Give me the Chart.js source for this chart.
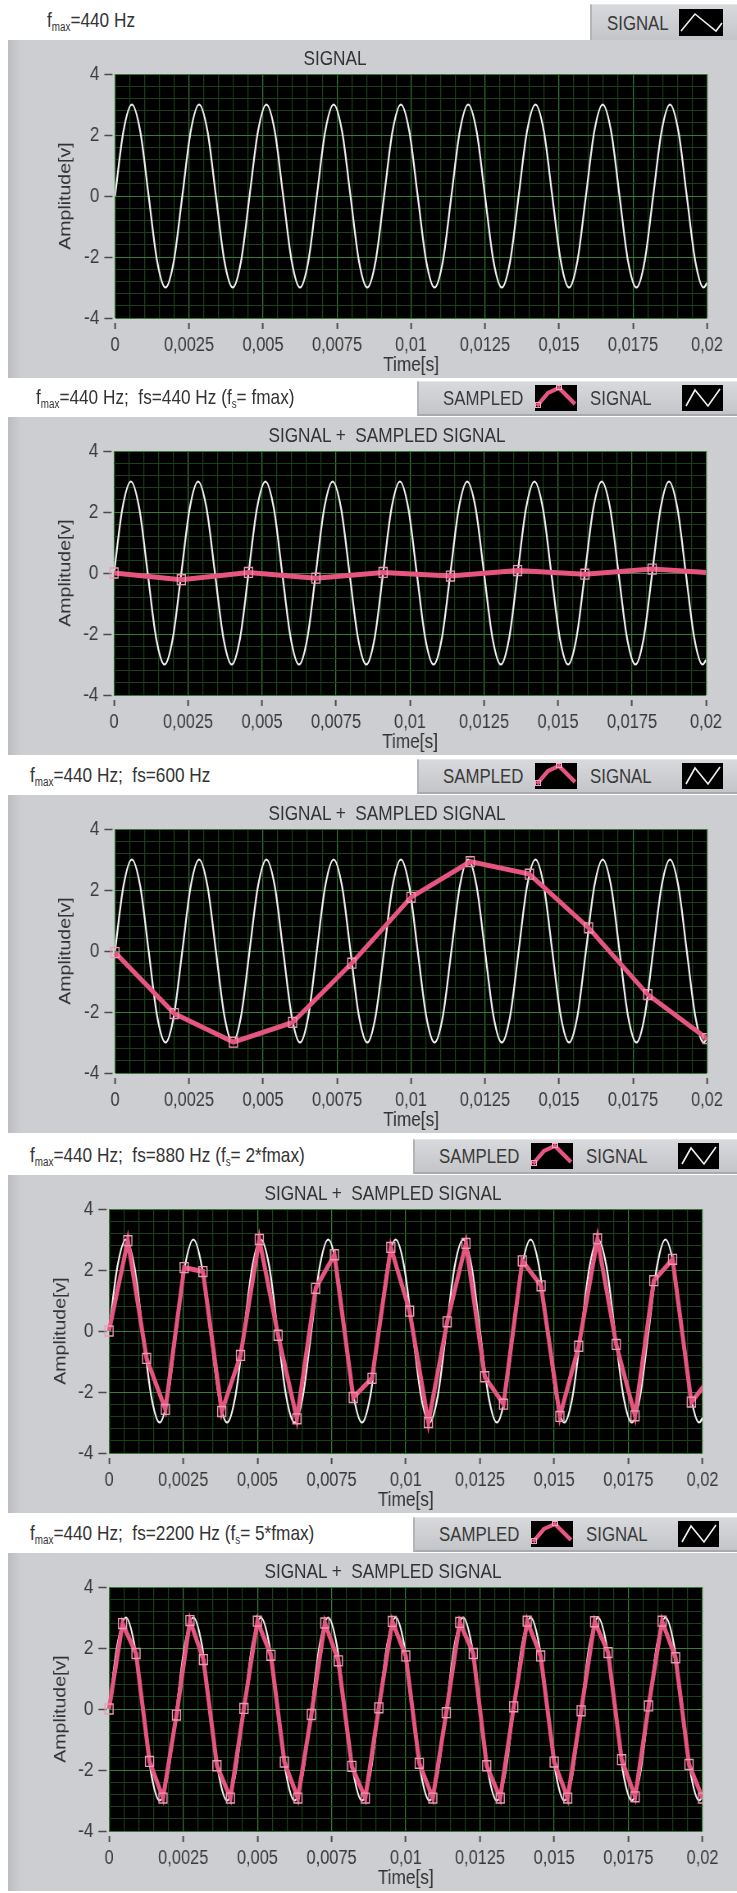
<!DOCTYPE html>
<html>
<head>
<meta charset="utf-8">
<script src="https://cdn.jsdelivr.net/npm/chart.js@4.4.1/dist/chart.umd.min.js"></script>
<style>
html,body{margin:0;padding:0;background:#fff;}
body{width:737px;height:1893px;position:relative;overflow:hidden;font-family:"Liberation Sans",Arial,sans-serif;}
.hdr{position:absolute;left:0;height:40px;line-height:40px;font-size:21px;color:#333;white-space:pre;transform:scaleX(0.82);transform-origin:0 50%;}
.hdr sub{font-size:12px;vertical-align:-4px;line-height:0;}
.leg{position:absolute;right:0;background:linear-gradient(#d8d9dc,#c4c5c8);border-top:1px solid #e6e6e8;border-left:2px solid #b4b5b8;border-bottom:2px solid #a9aaad;box-sizing:border-box;font-size:20.5px;color:#3a3a3a;}
.leg span{position:absolute;top:50%;transform:translateY(-50%) scaleX(0.82);transform-origin:0 50%;white-space:nowrap;}
.leg .ic{position:absolute;top:0;height:100%;display:flex;align-items:center;}
.panel{position:absolute;left:8px;width:729px;height:338px;overflow:hidden;background:linear-gradient(to right,#bcbdc0 0,#c9cacd 10px,#cdced1 14px);}
.ttl{position:absolute;top:6px;font-size:21px;color:#333;transform:translateX(-50%) scaleX(0.82);white-space:pre;}
.cw{position:absolute;left:0;top:0;width:889px;height:338px;transform:scaleX(0.82);transform-origin:0 0;}
canvas{position:absolute;left:0;top:0;}
</style>
</head>
<body>
<script>
// ---------- DATA ----------
const xTickValues = [0, 0.0025, 0.005, 0.0075, 0.01, 0.0125, 0.015, 0.0175, 0.02];
const xTickLabels = ['0', '0,0025', '0,005', '0,0075', '0,01', '0,0125', '0,015', '0,0175', '0,02'];
const yTickValues = [-4, -2, 0, 2, 4];
const yTickLabels = ['-4', '-2', '0', '2', '4'];

// continuous signal (fmax = 440 Hz)
const signalTime = [0, 0.000284, 0.000568, 0.000852, 0.001136, 0.00142, 0.001705, 0.001989,
  0.002273, 0.002557, 0.002841, 0.003125, 0.003409, 0.003693, 0.003977, 0.004261,
  0.004545, 0.00483, 0.005114, 0.005398, 0.005682, 0.005966, 0.00625, 0.006534,
  0.006818, 0.007102, 0.007386, 0.00767, 0.007955, 0.008239, 0.008523, 0.008807,
  0.009091, 0.009375, 0.009659, 0.009943, 0.010227, 0.010511, 0.010795, 0.01108,
  0.011364, 0.011648, 0.011932, 0.012216, 0.0125, 0.012784, 0.013068, 0.013352,
  0.013636, 0.01392, 0.014205, 0.014489, 0.014773, 0.015057, 0.015341, 0.015625,
  0.015909, 0.016193, 0.016477, 0.016761, 0.017045, 0.01733, 0.017614, 0.017898,
  0.018182, 0.018466, 0.01875, 0.019034, 0.019318, 0.019602, 0.019886, 0.02];
const signalAmp = [0, 2.12, 3, 2.12, 0, -2.12, -3, -2.12,
  0, 2.12, 3, 2.12, 0, -2.12, -3, -2.12,
  0, 2.12, 3, 2.12, 0, -2.12, -3, -2.12,
  0, 2.12, 3, 2.12, 0, -2.12, -3, -2.12,
  0, 2.12, 3, 2.12, 0, -2.12, -3, -2.12,
  0, 2.12, 3, 2.12, 0, -2.12, -3, -2.12,
  0, 2.12, 3, 2.12, 0, -2.12, -3, -2.12,
  0, 2.12, 3, 2.12, 0, -2.12, -3, -2.12,
  0, 2.12, 3, 2.12, 0, -2.12, -3, -2.85];

// sampled, fs = 440 Hz
const sampledTime440 = [0, 0.002273, 0.004545, 0.006818, 0.009091, 0.011364, 0.013636, 0.015909, 0.018182, 0.020455];
const sampledAmp440 = [0, -0.22, 0.02, -0.17, 0.02, -0.1, 0.08, -0.04, 0.13, -0.01];

// sampled, fs = 600 Hz (as drawn)
const sampledTime600 = [0, 0.002, 0.004, 0.006, 0.008, 0.01, 0.012, 0.014, 0.016, 0.018, 0.02];
const sampledAmp600 = [-0.05, -2.05, -2.99, -2.34, -0.4, 1.76, 2.93, 2.52, 0.76, -1.43, -2.87];

// sampled, fs = 880 Hz (as drawn)
const sampledTime880 = [0, 0.000633, 0.001266, 0.001899, 0.002532, 0.003165, 0.003798, 0.004431,
  0.005064, 0.005697, 0.00633, 0.006963, 0.007596, 0.008229, 0.008862, 0.009495,
  0.010128, 0.010761, 0.011394, 0.012027, 0.01266, 0.013293, 0.013926, 0.014559,
  0.015192, 0.015825, 0.016458, 0.017091, 0.017724, 0.018357, 0.01899, 0.019623, 0.020256];
const sampledAmp880 = [0, 2.96, -0.9, -2.57, 2.08, 1.95, -2.64, -0.8,
  3.0, -0.14, -2.88, 1.4, 2.5, -2.18, -1.55, 2.74,
  0.65, -3.0, 0.3, 2.87, -1.5, -2.4, 2.3, 1.48,
  -2.8, -0.5, 3.02, -0.44, -2.78, 1.65, 2.35, -2.33, -1.55];

// sampled, fs = 2200 Hz
const sampledTime2200 = [0, 0.000455, 0.000909, 0.001364, 0.001818, 0.002273, 0.002727, 0.003182,
  0.003636, 0.004091, 0.004545, 0.005, 0.005455, 0.005909, 0.006364, 0.006818,
  0.007273, 0.007727, 0.008182, 0.008636, 0.009091, 0.009545, 0.01, 0.010455,
  0.010909, 0.011364, 0.011818, 0.012273, 0.012727, 0.013182, 0.013636, 0.014091,
  0.014545, 0.015, 0.015455, 0.015909, 0.016364, 0.016818, 0.017273, 0.017727,
  0.018182, 0.018636, 0.019091, 0.019545, 0.02];
const sampledAmp2200 = [0, 2.8, 1.82, -1.72, -2.92, -0.2, 2.9, 1.62,
  -1.86, -2.92, 0.02, 2.88, 1.76, -1.74, -2.92, -0.18,
  2.82, 1.58, -1.88, -2.92, 0.04, 2.87, 1.74, -1.78,
  -2.92, -0.12, 2.84, 1.82, -1.86, -2.92, 0.07, 2.88,
  1.74, -1.74, -2.92, -0.06, 2.86, 1.85, -1.66, -2.88,
  0.1, 2.88, 1.68, -1.82, -2.92];

const headerTexts = [
  'f<sub>max</sub>=440 Hz',
  'f<sub>max</sub>=440 Hz;  fs=440 Hz (f<sub>s</sub>= fmax)',
  'f<sub>max</sub>=440 Hz;  fs=600 Hz',
  'f<sub>max</sub>=440 Hz;  fs=880 Hz (f<sub>s</sub>= 2*fmax)',
  'f<sub>max</sub>=440 Hz;  fs=2200 Hz (f<sub>s</sub>= 5*fmax)'
];
const chartTitles = ['SIGNAL', 'SIGNAL +  SAMPLED SIGNAL', 'SIGNAL +  SAMPLED SIGNAL', 'SIGNAL +  SAMPLED SIGNAL', 'SIGNAL +  SAMPLED SIGNAL'];
const sampledTimes = [null, sampledTime440, sampledTime600, sampledTime880, sampledTime2200];
const sampledAmps = [null, sampledAmp440, sampledAmp600, sampledAmp880, sampledAmp2200];

// ---------- LAYOUT ----------
const FONT = '"Liberation Sans", Arial, sans-serif';
const PINK = '#e6557f';
const MAJOR = '#367b36';
const MINOR = '#1b3e1b';
const SQ = 0.82;              // horizontal squeeze of the original screenshot
const CW = 889;               // internal canvas width (729 / 0.82)
const layoutCfg = [
  {top: 0,    hdrX: 47, legLeft: 590, plotLeft: 130.5, padRight: 36.6, yTitlePad: 59, titleX: 327},
  {top: 377,  hdrX: 36, legLeft: 417, plotLeft: 129.3, padRight: 37.8, yTitlePad: 59, titleX: 379},
  {top: 755,  hdrX: 30, legLeft: 417, plotLeft: 130.5, padRight: 36.6, yTitlePad: 59, titleX: 379},
  {top: 1135, hdrX: 30, legLeft: 413, plotLeft: 123.2, padRight: 42,   yTitlePad: 53, titleX: 375},
  {top: 1513, hdrX: 30, legLeft: 413, plotLeft: 123.2, padRight: 42,   yTitlePad: 53, titleX: 375}
];

function near(a, b) { return Math.abs(a - b) < 1e-7; }
function majorIndex(list, v) { for (let i = 0; i < list.length; i++) if (near(list[i], v)) return i; return -1; }

const sigIcon1 = '<svg width="44" height="27"><rect width="44" height="27" fill="#000"/><polyline points="2,22 16,5 37,22 43,14" fill="none" stroke="#eee" stroke-width="1.6"/></svg>';
const sigIconN = '<svg width="41" height="26"><rect width="41" height="26" fill="#000"/><polyline points="4,21 13,5 26,21 38,4" fill="none" stroke="#eee" stroke-width="1.6"/></svg>';
const sampIcon = '<svg width="42" height="26"><rect width="42" height="26" fill="#000"/><polyline points="2,21 13,8 24,3 40,19" fill="none" stroke="' + PINK + '" stroke-width="4"/><rect x="0.5" y="17.5" width="5" height="5" fill="none" stroke="#f0a8c0"/><rect x="21.5" y="0.5" width="5" height="4" fill="none" stroke="#f0a8c0"/></svg>';

const plotBg = {
  id: 'plotBg',
  beforeDraw(chart) {
    const {ctx, chartArea: a} = chart;
    ctx.save();
    ctx.fillStyle = '#000';
    ctx.fillRect(a.left, a.top, a.right - a.left, a.bottom - a.top);
    ctx.restore();
  }
};

layoutCfg.forEach((L, i) => {
  const h = document.createElement('div');
  h.className = 'hdr';
  h.style.top = L.top + 'px';
  h.style.left = L.hdrX + 'px';
  h.innerHTML = headerTexts[i];
  document.body.appendChild(h);

  const lg = document.createElement('div');
  lg.className = 'leg';
  lg.style.left = L.legLeft + 'px';
  lg.style.top = (L.top + 4) + 'px';
  if (i === 0) {
    lg.style.height = '38px';
    lg.innerHTML = '<span style="left:15px">SIGNAL</span><div class="ic" style="left:87px">' + sigIcon1 + '</div>';
  } else {
    lg.style.height = '35px';
    lg.innerHTML = '<span style="left:24px">SAMPLED</span><div class="ic" style="left:116px">' + sampIcon +
      '</div><span style="left:171px">SIGNAL</span><div class="ic" style="left:263px">' + sigIconN + '</div>';
  }
  document.body.appendChild(lg);

  const p = document.createElement('div');
  p.className = 'panel';
  p.style.top = (L.top + 40) + 'px';
  const wrap = document.createElement('div');
  wrap.className = 'cw';
  const c = document.createElement('canvas');
  c.width = CW; c.height = 338;
  c.style.width = CW + 'px'; c.style.height = '338px';
  wrap.appendChild(c);
  const t = document.createElement('div');
  t.className = 'ttl';
  t.style.left = L.titleX + 'px';
  t.textContent = chartTitles[i];
  p.appendChild(wrap);
  p.appendChild(t);
  document.body.appendChild(p);

  const datasets = [];
  if (sampledTimes[i]) {
    datasets.push({
      label: 'SAMPLED',
      data: sampledTimes[i].map((x, k) => ({x: x, y: sampledAmps[i][k]})),
      borderColor: PINK, borderWidth: 5, tension: 0,
      pointStyle: 'rect', pointRadius: 7, pointHoverRadius: 7,
      pointBorderColor: '#ee9ab6', pointBackgroundColor: 'rgba(0,0,0,0)', pointBorderWidth: 1.4,
      order: 0, clip: {left: 10, right: 0, top: 10, bottom: 10}
    });
  }
  datasets.push({
    label: 'SIGNAL',
    data: signalTime.map((x, k) => ({x: x, y: signalAmp[k]})),
    borderColor: '#f2f2f2', borderWidth: 2.2, pointRadius: 0,
    cubicInterpolationMode: 'monotone', order: 1
  });

  new Chart(c, {
    type: 'line',
    data: {datasets},
    plugins: [plotBg],
    options: {
      responsive: false, animation: false, devicePixelRatio: 1,
      layout: {padding: {left: 0, right: L.padRight, top: 34, bottom: 0}},
      plugins: {legend: {display: false}, tooltip: {enabled: false}, title: {display: false}},
      scales: {
        x: {
          type: 'linear', min: 0, max: 0.02,
          afterFit(s) { s.height = 60; s.paddingLeft = 0; s.paddingRight = 0; },
          border: {display: false},
          grid: {
            color: ctx => majorIndex(xTickValues, ctx.tick.value) >= 0 ? MAJOR : MINOR,
            tickColor: ctx => majorIndex(xTickValues, ctx.tick.value) >= 0 ? '#4a4a4a' : 'rgba(0,0,0,0)',
            tickLength: 12, tickWidth: 2, tickBorderDash: [0, 5, 6, 100], lineWidth: 1.25
          },
          ticks: {
            stepSize: 0.0005, maxTicksLimit: 100, autoSkip: false, maxRotation: 0, minRotation: 0, padding: 3,
            color: '#3a3a3a', font: {family: FONT, size: 20, lineHeight: 1.2},
            callback: v => { const k = majorIndex(xTickValues, v); return k >= 0 ? xTickLabels[k] : ''; }
          },
          title: {display: true, text: 'Time[s]', color: '#333', font: {family: FONT, size: 21, lineHeight: 1.2}, padding: {top: 0, bottom: 0}}
        },
        y: {
          type: 'linear', min: -4, max: 4,
          afterFit(s) { s.width = L.plotLeft; s.paddingTop = 0; s.paddingBottom = 0; },
          border: {display: false},
          grid: {
            color: ctx => majorIndex(yTickValues, ctx.tick.value) >= 0 ? MAJOR : MINOR,
            tickColor: ctx => majorIndex(yTickValues, ctx.tick.value) >= 0 ? '#4a4a4a' : 'rgba(0,0,0,0)',
            tickLength: 13, tickWidth: 1.5, tickBorderDash: [10, 100], lineWidth: 1
          },
          ticks: {
            stepSize: 0.4, maxTicksLimit: 100, autoSkip: false, padding: 6,
            color: '#3a3a3a', font: {family: FONT, size: 21, lineHeight: 1.2},
            callback: v => { const k = majorIndex(yTickValues, v); return k >= 0 ? yTickLabels[k] : ''; }
          },
          title: {display: true, text: 'Amplitude[v]', color: '#333', font: {family: FONT, size: 19.5, lineHeight: 1.2}, padding: {top: L.yTitlePad, bottom: 0}}
        }
      }
    }
  });
});
</script>
</body>
</html>
